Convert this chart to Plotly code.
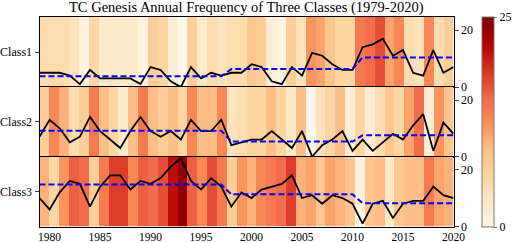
import numpy as np
import plotly.graph_objects as go

years = list(range(1979, 2021))
class1 = [5, 5, 5, 4, 1, 6, 3, 3, 3, 3, 1, 7, 6, 2, 0, 7, 3, 5, 4, 5, 5,
          8, 7, 2, 1, 7, 4, 12, 11, 8, 6, 6, 14, 15, 17, 11, 13, 5, 4, 13, 5, 7]
class2 = [7, 13, 10, 5, 7, 14, 9, 6, 3, 9, 14, 9, 7, 9, 6, 13, 9, 9, 13, 4, 5,
          6, 6, 9, 6, 3, 9, 0, 4, 6, 9, 2, 6, 2, 5, 8, 6, 11, 15, 2, 12, 8]
class3 = [10, 6, 12, 16, 15, 7, 14, 18, 18, 13, 16, 15, 17, 21, 24, 16, 13, 17, 14, 7, 12,
          10, 13, 14, 15, 18, 10, 11, 8, 11, 10, 8, 1, 8, 9, 3, 8, 9, 9, 14, 11, 10]
period_ends = [1997, 2010, 2020]
means1 = [3.8, 6.3, 10.4]
means2 = [9.1, 5.3, 7.5]
means3 = [14.8, 11.3, 8.2]
class_names = ["Class1", "Class2", "Class3"]
xticks = [1980, 1985, 1990, 1995, 2000, 2005, 2010, 2015, 2020]
title = "TC Genesis Annual Frequency of Three Classes (1979-2020)"

FONT = "Liberation Serif, Times New Roman, serif"
W, H = 512, 243
xl, xr = 39.5 / W, 453.5 / W
panel_px = [(17, 87), (87, 156.5), (156.5, 226.5)]

edges = np.linspace(years[0], years[-1], len(years) + 1)


def step_means(means):
    out = []
    for y in years:
        for m, e in zip(means, period_ends):
            if y <= e:
                out.append(m)
                break
    return out


fig = go.Figure()
data = [(class1, means1), (class2, means2), (class3, means3)]
for i, (vals, means) in enumerate(data):
    xa = "x" if i == 0 else f"x{i+1}"
    yl = "y" if i == 0 else f"y{2*i+1}"
    yr = f"y{2*i+2}"
    fig.add_trace(go.Heatmap(
        z=[vals], x=edges, y=[0, 1], xaxis=xa, yaxis=yl,
        colorscale="OrRd", zmin=0, zmax=25, showscale=(i == 0),
        hoverinfo="skip",
        colorbar=dict(
            x=482 / W, xanchor="left", y=(H - 17) / H, yanchor="top",
            len=(226.5 - 17) / H, lenmode="fraction",
            thickness=12, thicknessmode="pixels", xpad=0, ypad=0,
            outlinewidth=1, outlinecolor="#777777",
            tickvals=[0, 25], ticks="outside", ticklen=3, tickcolor="#777777",
            tickfont=dict(family=FONT, size=12, color="black"),
        ),
    ))
    fig.add_trace(go.Scatter(
        x=years, y=vals, xaxis=xa, yaxis=yr, mode="lines",
        line=dict(color="black", width=1.8), showlegend=False,
    ))
    fig.add_trace(go.Scatter(
        x=years, y=step_means(means), xaxis=xa, yaxis=yr, mode="lines",
        line=dict(color="#0000ff", width=2, dash="6px,3px"), showlegend=False,
    ))

layout = dict(
    width=W, height=H, margin=dict(l=0, r=0, t=0, b=0, autoexpand=False),
    paper_bgcolor="white", plot_bgcolor="white", showlegend=False,
    font=dict(family=FONT, size=12, color="black"),
)
for i, (top, bot) in enumerate(panel_px):
    dom = [(H - bot) / H, (H - top) / H]
    xkey = "xaxis" if i == 0 else f"xaxis{i+1}"
    ylkey = "yaxis" if i == 0 else f"yaxis{2*i+1}"
    yrkey = f"yaxis{2*i+2}"
    ylname = "y" if i == 0 else f"y{2*i+1}"
    xname = "x" if i == 0 else f"x{i+1}"
    layout[xkey] = dict(
        domain=[xl, xr], range=[years[0], years[-1]], anchor=ylname,
        showline=True, linecolor="black", linewidth=1, mirror=True,
        showgrid=False, zeroline=False, automargin=False,
        tickvals=xticks, ticks="",
        showticklabels=(i == 2),
        tickfont=dict(family=FONT, size=11.5, color="black"),
    )
    if i > 0:
        layout[xkey]["matches"] = "x"
    layout[ylkey] = dict(
        domain=dom, range=[0, 1], anchor=xname,
        showline=True, linecolor="black", linewidth=1, mirror=True,
        showgrid=False, zeroline=False, automargin=False,
        tickvals=[0.5], ticktext=[class_names[i]], ticks="outside", ticklen=4,
        tickfont=dict(family=FONT, size=12, color="black"),
    )
    layout[yrkey] = dict(
        overlaying=ylname, side="right", anchor=xname, range=[0, 24.6],
        showline=False, showgrid=False, zeroline=False, automargin=False,
        tickvals=[0, 20], ticks="outside", ticklen=4,
        tickfont=dict(family=FONT, size=12, color="black"),
    )
fig.update_layout(**layout)
fig.add_annotation(
    text=title, xref="paper", yref="paper", x=246.5 / W, y=(H - 8) / H,
    xanchor="center", yanchor="middle", showarrow=False,
    font=dict(family=FONT, size=14.5, color="black"),
)
fig.write_html(
    "out.html",
    config={"displayModeBar": False},
    post_script="document.body.style.margin='0px';document.body.style.overflow='hidden';",
)
